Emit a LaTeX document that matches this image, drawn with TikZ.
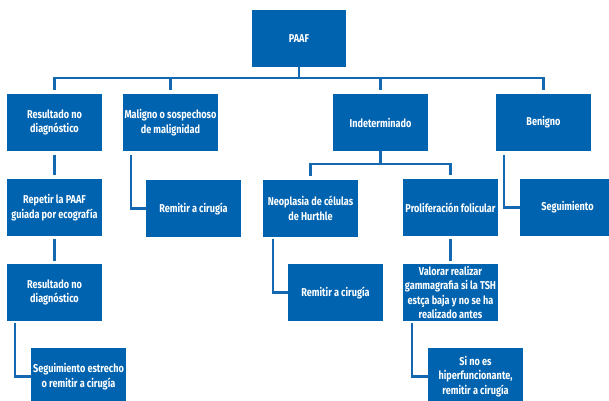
\documentclass[tikz,border=0pt]{standalone}
\usepackage{fontspec}
\setmainfont{Fira Sans}[FakeStretch=0.80]
\definecolor{boxblue}{RGB}{0,99,176}
\definecolor{lineblue}{RGB}{20,104,178}
\begin{document}
\begin{tikzpicture}[x=1pt,y=-1pt,
  box/.style={fill=boxblue,text=white,minimum width=95pt,minimum height=57pt,inner sep=0pt,align=center,
    font=\fontsize{11.4}{14.6}\selectfont\bfseries},
  conn/.style={draw=lineblue,line width=2.5pt}]
\useasboundingbox (0,0) rectangle (609,400);
\fill[white] (0,0) rectangle (609,400);
% level 0
\node[box,minimum width=94pt] (paaf) at (299,38.5) {PAAF};
% level 1
\node[box] (res1) at (54.5,122.5) {Resultado no\\diagnóstico};
\node[box] (mal) at (170.5,122.5) {Maligno o sospechoso\\de malignidad};
\node[box] (ind) at (380.5,122.5) {Indeterminado};
\node[box] (ben) at (543.5,122.5) {Benigno};
% level 2
\node[box] (rep) at (54.5,207.5) {Repetir la PAAF\\guiada por ecografía};
\node[box] (rem1) at (193.5,208.5) {Remitir a cirugía};
\node[box] (neo) at (310.5,208.5) {Neoplasia de células\\de Hurthle};
\node[box] (pro) at (450.5,207.5) {Proliferación folicular};
\node[box] (seg) at (567.5,207.5) {Seguimiento};
% level 3
\node[box] (res2) at (54.5,292.5) {Resultado no\\diagnóstico};
\node[box] (rem2) at (335.5,292.5) {Remitir a cirugía};
\node[box] (val) at (450.5,292.5) {Valorar realizar\\gammagrafia si la TSH\\estça baja y no se ha\\realizado antes};
% level 4
\node[box] (segest) at (78.5,376.5) {Seguimiento estrecho\\o remitir a cirugía};
\node[box] (sino) at (475.5,376.5) {Si no es\\hiperfuncionante,\\remitir a cirugía};
% connectors
\coordinate (busy) at (0,78);
\coordinate (bus2) at (0,164);
\draw[conn] (paaf.south) -- (paaf.south |- busy);
\draw[conn,shorten <=4pt,shorten >=4pt] (res1.north) -- (res1.north |- busy) -- (ben.north |- busy) -- (ben.north);
\draw[conn,shorten <=4pt] (mal.north) -- (mal.north |- busy);
\draw[conn,shorten <=4pt] (ind.north) -- (ind.north |- busy);
\draw[conn,shorten <=3.5pt,shorten >=3.5pt] (res1.south) -- (rep.north);
\draw[conn,shorten <=3pt,shorten >=3pt] (rep.south) -- (res2.north);
\draw[conn] ([xshift=8pt,yshift=-2pt]res2.south west) |- (segest.west);
\draw[conn] ([xshift=8pt,yshift=-4pt]mal.south west) |- (rem1.west);
\draw[conn] ([xshift=8pt,yshift=-4pt]ben.south west) |- (seg.west);
\draw[conn] (ind.south) -- (ind.south |- bus2);
\draw[conn,shorten <=4pt,shorten >=4pt] (neo.north) -- (neo.north |- bus2) -- (pro.north |- bus2) -- (pro.north);
\draw[conn] ([xshift=10pt,yshift=-2pt]neo.south west) |- (rem2.west);
\draw[conn,shorten <=3pt,shorten >=3pt] (pro.south) -- (val.north);
\draw[conn] ([xshift=9pt,yshift=-2pt]val.south west) |- (sino.west);
\end{tikzpicture}
\end{document}
